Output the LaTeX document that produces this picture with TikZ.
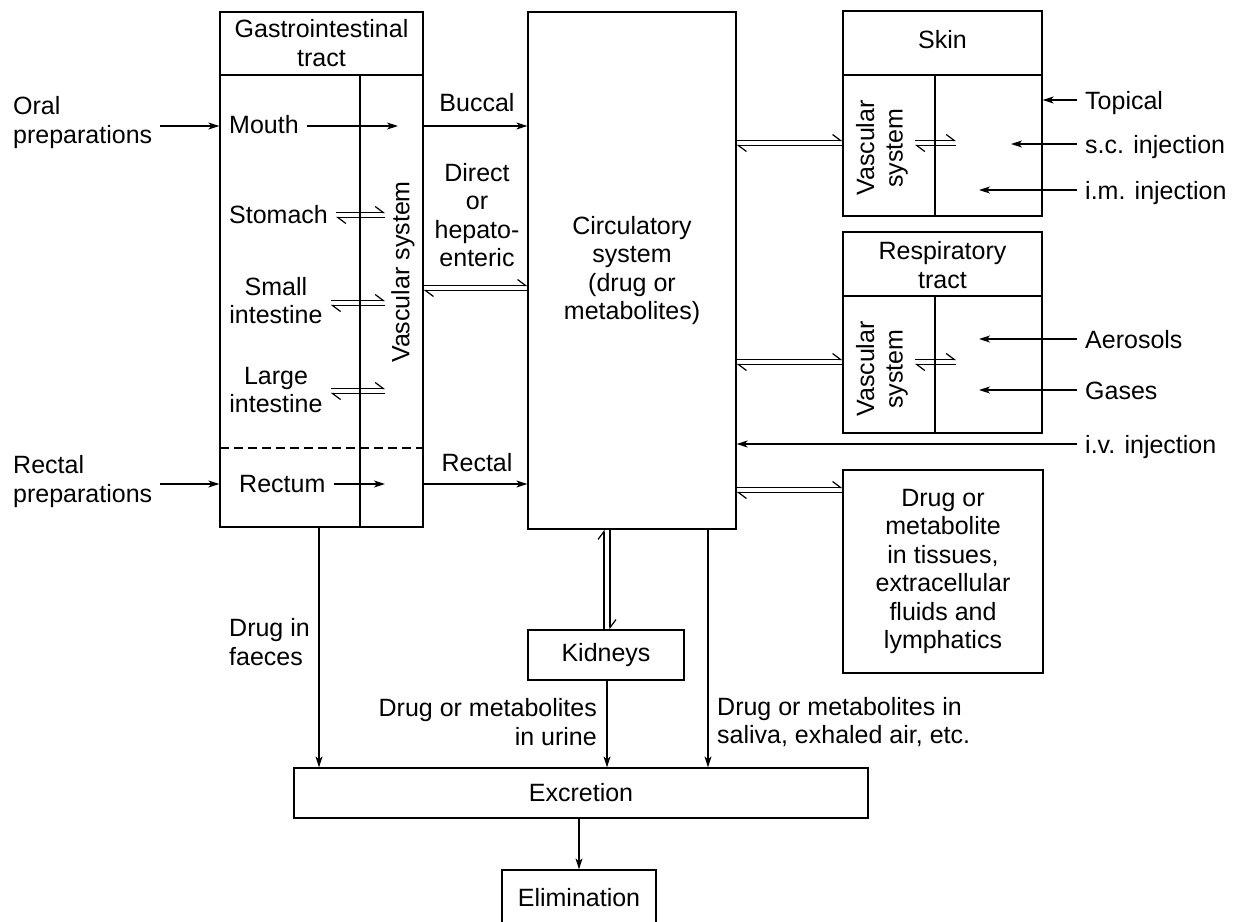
\documentclass[tikz,border=0pt]{standalone}
\usepackage{fontspec}
\setmainfont{Liberation Sans}
\usetikzlibrary{arrows.meta,calc}
\begin{document}
\begin{tikzpicture}[x=1pt,y=-1pt,
  font=\fontsize{25}{28.5}\selectfont,
  box/.style={draw,line width=1.3pt,inner sep=0pt},
  mtxt/.style={inner sep=0pt,align=center},
  lab/.style={inner xsep=8pt,inner ysep=0pt,text height=18pt,text depth=0pt},
  mlab/.style={inner xsep=8pt,inner ysep=0pt},
  arr/.style={line width=1.2pt,-{Stealth[length=11pt,width=7pt,inset=3pt]}},
  harp/.style={line width=1.2pt,-{Straight Barb[left,length=8pt,width=12pt]}},
  divider/.style={line width=1.3pt}]
\useasboundingbox (0,0) rectangle (1238,921);

% ---------- boxes ----------
\node[box,minimum width=203pt,minimum height=515pt] (gi) at (321.5,269.5) {};
\node[box,minimum width=208pt,minimum height=517pt,mtxt] (circ) at (632,270.5)
  {Circulatory\\system\\(drug or\\metabolites)};
\node[box,minimum width=199pt,minimum height=205pt] (skin) at (942.5,113.5) {};
\node[box,minimum width=199pt,minimum height=201pt] (resp) at (942.5,332.5) {};
\node[box,minimum width=200pt,minimum height=203pt,mtxt] (tissue) at (943,571.5)
  {Drug or\\metabolite\\in tissues,\\extracellular\\fluids and\\lymphatics};
\node[box,minimum width=156pt,minimum height=50pt] (kid) at (606,655) {Kidneys};
\node[box,minimum width=574pt,minimum height=50pt] (excr) at (581,793) {Excretion};
\node[box,minimum width=154pt,minimum height=56pt] (elim) at (579,898) {Elimination};

% ---------- internal dividers ----------
\draw[divider] (220,75) -- (423,75);
\draw[divider] (360,75) -- (360,527);
\draw[divider,dash pattern=on 9pt off 5pt] (220,448) -- (423,448);
\draw[divider] (843,75) -- (1042,75);
\draw[divider] (935,75) -- (935,216);
\draw[divider] (843,296) -- (1042,296);
\draw[divider] (935,296) -- (935,433);

% ---------- headers and inner texts ----------
\node[mtxt] (gihead) at (321.5,43) {Gastrointestinal\\tract};
\node[mtxt] (skinhead) at (942.5,40) {Skin};
\node[mtxt] (resphead) at (942.5,265) {Respiratory\\tract};
\node[mtxt,rotate=90] (vasc) at (403,272) {Vascular system};
\node[mtxt,rotate=90] (skinvasc) at (882,148) {Vascular\\system};
\node[mtxt,rotate=90] (respvasc) at (882,369) {Vascular\\system};

\node[lab,anchor=west] (mouth) at (221,124) {Mouth};
\node[lab,anchor=west] (stomach) at (221,214) {Stomach};
\node[mlab] (small) at (276,304) {\begin{tabular}{@{}c@{}}Small\\intestine\end{tabular}};
\node[mlab] (large) at (276,393) {\begin{tabular}{@{}c@{}}Large\\intestine\end{tabular}};
\node[lab,anchor=west] (rectum) at (231,483) {Rectum};

% ---------- left labels ----------
\node[mlab,anchor=west,align=left] (oral) at (5,122.5) {Oral\\preparations};
\node[mlab,anchor=west,align=left] (rprep) at (5,481.5) {Rectal\\preparations};

% ---------- route labels ----------
\node[mtxt] (buccal) at (477,103) {Buccal};
\node[mtxt] (hepato) at (477,215) {Direct\\or\\hepato-\\enteric};
\node[mtxt] (rectal) at (477,463) {Rectal};

% ---------- right labels ----------
\node[lab,anchor=west] (topical) at (1077,100) {Topical};
\node[lab,anchor=west] (sc) at (1077,144) {s.c. injection};
\node[lab,anchor=west] (im) at (1077,190) {i.m. injection};
\node[lab,anchor=west] (aero) at (1077,339) {Aerosols};
\node[lab,anchor=west] (gases) at (1077,390) {Gases};
\node[lab,anchor=west] (iv) at (1077,444) {i.v. injection};

% ---------- bottom labels ----------
\node[mtxt,anchor=west,align=left] (faeces) at (229,642) {Drug in\\faeces};
\node[mtxt,anchor=east,align=right] (urine) at (597,722) {Drug or metabolites\\in urine};
\node[mtxt,anchor=west,align=left] (saliva) at (717,722) {Drug or metabolites in\\saliva, exhaled air, etc.};

% ---------- coordinates ----------
\coordinate (yM) at (0,126);
\coordinate (vM) at (398,126);
\coordinate (yR) at (0,484);
\coordinate (vR) at (385,484);
\coordinate (vS1) at (385,212.5);
\coordinate (vS2) at (385,217.5);
\coordinate (vSi1) at (385,300.5);
\coordinate (vSi2) at (385,305.5);
\coordinate (vL1) at (385,388.5);
\coordinate (vL2) at (385,393.5);
\coordinate (yH1) at (0,285.5);
\coordinate (yH2) at (0,290.5);
\coordinate (ySk1) at (0,140.5);
\coordinate (ySk2) at (0,145.5);
\coordinate (yRe1) at (0,359.5);
\coordinate (yRe2) at (0,364.5);
\coordinate (yT1) at (0,487.5);
\coordinate (yT2) at (0,492.5);
\coordinate (skA) at (915,140.5);
\coordinate (skB) at (956,140.5);
\coordinate (skC) at (915,145.5);
\coordinate (skD) at (956,145.5);
\coordinate (reA) at (915,359.5);
\coordinate (reB) at (956,359.5);
\coordinate (reC) at (915,364.5);
\coordinate (reD) at (956,364.5);
\coordinate (scT) at (1011,144);
\coordinate (imT) at (979,190);
\coordinate (aeT) at (979,339);
\coordinate (gaT) at (979,390);
\coordinate (xK1) at (604,0);
\coordinate (xK2) at (610,0);
\coordinate (xU) at (607,0);
\coordinate (xF) at (319,0);
\coordinate (xS) at (708,0);

% ---------- GI connectors ----------
\draw[arr] (oral.east |- yM) -- (gi.west |- yM);
\draw[arr] (mouth.east |- yM) -- (vM);
\draw[arr] (gi.east |- yM) -- (circ.west |- yM);
\draw[harp] (stomach.east |- vS1) -- (vS1);
\draw[harp] (vS2) -- (stomach.east |- vS2);
\draw[harp] (small.east |- vSi1) -- (vSi1);
\draw[harp] (vSi2) -- (small.east |- vSi2);
\draw[harp] (large.east |- vL1) -- (vL1);
\draw[harp] (vL2) -- (large.east |- vL2);
\draw[harp] (gi.east |- yH1) -- (circ.west |- yH1);
\draw[harp] (circ.west |- yH2) -- (gi.east |- yH2);
\draw[arr] (rprep.east |- yR) -- (gi.west |- yR);
\draw[arr] (rectum.east |- yR) -- (vR);
\draw[arr] (gi.east |- yR) -- (circ.west |- yR);

% ---------- right connectors ----------
\draw[harp] (circ.east |- ySk1) -- (skin.west |- ySk1);
\draw[harp] (skin.west |- ySk2) -- (circ.east |- ySk2);
\draw[harp] (skA) -- (skB);
\draw[harp] (skD) -- (skC);
\draw[arr] (topical) -- (skin.east |- topical);
\draw[arr] (sc) -- (scT);
\draw[arr] (im) -- (imT);
\draw[harp] (circ.east |- yRe1) -- (resp.west |- yRe1);
\draw[harp] (resp.west |- yRe2) -- (circ.east |- yRe2);
\draw[harp] (reA) -- (reB);
\draw[harp] (reD) -- (reC);
\draw[arr] (aero) -- (aeT);
\draw[arr] (gases) -- (gaT);
\draw[arr] (iv) -- (circ.east |- iv);
\draw[harp] (circ.east |- yT1) -- (tissue.west |- yT1);
\draw[harp] (tissue.west |- yT2) -- (circ.east |- yT2);

% ---------- bottom connectors ----------
\draw[arr] (gi.south -| xF) -- (excr.north -| xF);
\draw[harp] (kid.north -| xK1) -- (circ.south -| xK1);
\draw[harp] (circ.south -| xK2) -- (kid.north -| xK2);
\draw[arr] (kid.south -| xU) -- (excr.north -| xU);
\draw[arr] (circ.south -| xS) -- (excr.north -| xS);
\draw[arr] (excr.south -| elim.north) -- (elim.north);
\end{tikzpicture}
\end{document}
